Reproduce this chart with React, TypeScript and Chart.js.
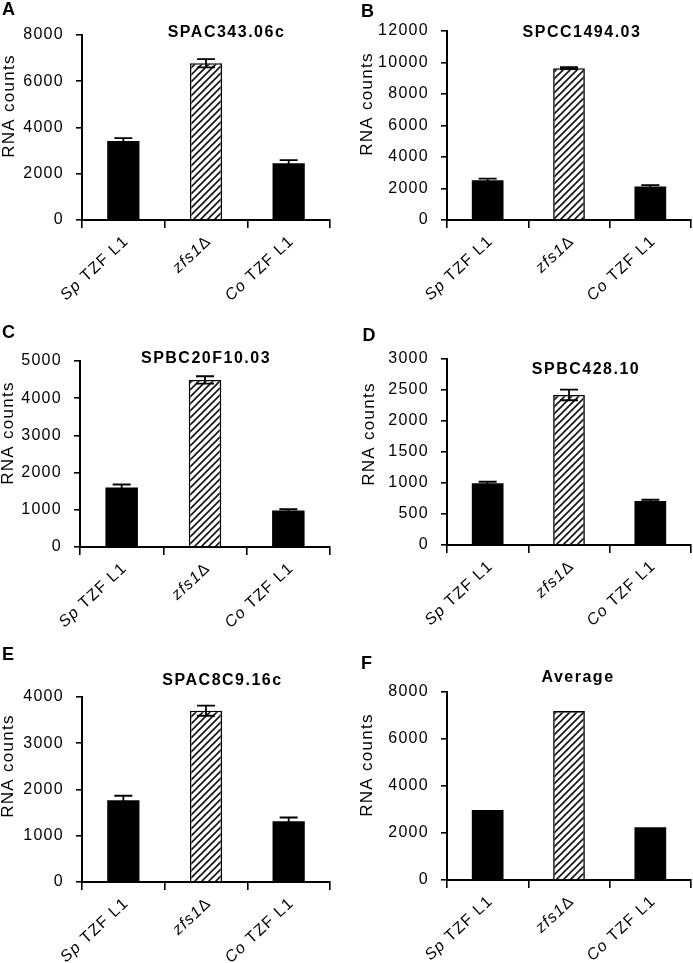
import React, { useEffect, useRef } from "react";
import { Chart, registerables } from "chart.js";

Chart.register(...registerables);

// ---------- data ----------
const categories = ["Sp TZF L1", "zfs1Δ", "Co TZF L1"];
const italicPrefixes = ["Sp", "zfs1", "Co"];
const panelLetters = ["A", "B", "C", "D", "E", "F"];
const panelTitles = ["SPAC343.06c", "SPCC1494.03", "SPBC20F10.03", "SPBC428.10", "SPAC8C9.16c", "Average"];
const yAxisTitle = "RNA counts";

const valuesA = [3420, 6780, 2450];
const errorsA = [120, 180, 140];
const valuesB = [2520, 9640, 2120];
const errorsB = [110, 60, 100];
const valuesC = [1600, 4490, 980];
const errorsC = [80, 100, 35];
const valuesD = [995, 2420, 710];
const errorsD = [25, 85, 20];
const valuesE = [1770, 3705, 1315];
const errorsE = [95, 110, 80];
const valuesF = [2980, 7190, 2240];
const errorsF: number[] = [];

const yMaxes = [8000, 12000, 5000, 3000, 4000, 8000];
const ySteps = [2000, 2000, 1000, 500, 1000, 2000];

const allValues = [valuesA, valuesB, valuesC, valuesD, valuesE, valuesF];
const allErrors = [errorsA, errorsB, errorsC, errorsD, errorsE, errorsF];

// ---------- layout (positions / sizes only) ----------
const LAYOUT = [
  { x: 0, y: 0, w: 346, h: 321, area: [82, 35, 330, 220], title: [226.5, 36.7], letter: [2, 15], ytitle: [9, 106] },
  { x: 346, y: 0, w: 347, h: 321, area: [101, 31, 345, 220], title: [236, 36.7], letter: [15, 16.7], ytitle: [21.5, 104] },
  { x: 0, y: 321, w: 346, h: 321, area: [80, 40, 330, 226], title: [206, 41.7], letter: [2, 16.7], ytitle: [8.5, 112] },
  { x: 346, y: 321, w: 347, h: 321, area: [101, 38, 345, 224], title: [240, 52.7], letter: [16.5, 20], ytitle: [23, 113] },
  { x: 0, y: 642, w: 346, h: 321, area: [82, 55, 330, 240], title: [222.5, 43.3], letter: [2, 18], ytitle: [8.5, 124] },
  { x: 346, y: 642, w: 347, h: 321, area: [101, 50, 345, 238], title: [232, 39.7], letter: [15, 26.7], ytitle: [21.5, 123] },
];

const FONT = '"Liberation Sans", Arial, sans-serif';

function makeHatch(ctx: CanvasRenderingContext2D) {
  const s = 7;
  const c = document.createElement("canvas");
  c.width = s;
  c.height = s;
  const g = c.getContext("2d")!;
  g.fillStyle = "#fff";
  g.fillRect(0, 0, s, s);
  g.strokeStyle = "#111";
  g.lineWidth = 1.6;
  g.beginPath();
  g.moveTo(-1, s + 1);
  g.lineTo(s + 1, -1);
  g.moveTo(-1, 1);
  g.lineTo(1, -1);
  g.moveTo(s - 1, s + 1);
  g.lineTo(s + 1, s - 1);
  g.stroke();
  return ctx.createPattern(c, "repeat");
}

function Panel({ idx }: { idx: number }) {
  const ref = useRef<HTMLCanvasElement | null>(null);
  const L = LAYOUT[idx];

  useEffect(() => {
    const canvas = ref.current!;
    const ctx0 = canvas.getContext("2d")!;
    const hatch = makeHatch(ctx0);
    const vals = allValues[idx];
    const errs = allErrors[idx];
    const [aL, aT, aR, aB] = L.area;

    const panelPlugin = {
      id: "panelText" + idx,
      beforeDraw(chart: any) {
        chart.ctx.letterSpacing = "1.3px";
      },
      afterDatasetsDraw(chart: any) {
        const ctx = chart.ctx;
        const meta = chart.getDatasetMeta(0);
        const ys = chart.scales.y;
        ctx.save();
        ctx.strokeStyle = "#000";
        ctx.lineWidth = 1.8;
        errs.forEach((e: number, i: number) => {
          const el = meta.data[i];
          const v = vals[i];
          const yTop = ys.getPixelForValue(v + e);
          const yBot = ys.getPixelForValue(v - e);
          const x = el.x;
          ctx.beginPath();
          ctx.moveTo(x, yTop);
          ctx.lineTo(x, yBot);
          ctx.moveTo(x - 9, yTop);
          ctx.lineTo(x + 9, yTop);
          ctx.moveTo(x - 9, yBot);
          ctx.lineTo(x + 9, yBot);
          ctx.stroke();
        });
        ctx.restore();
      },
      afterDraw(chart: any) {
        const ctx = chart.ctx;
        const area = chart.chartArea;
        const xs = chart.scales.x;
        ctx.save();
        ctx.fillStyle = "#000";

        // x labels (rotated, partially italic)
        categories.forEach((label, i) => {
          const it = italicPrefixes[i];
          const rest = label.slice(it.length);
          const px = xs.getPixelForValue(i);
          ctx.save();
          ctx.letterSpacing = "1.2px";
          ctx.translate(px + 3, area.bottom + 19);
          ctx.rotate(-Math.PI / 4.2);
          ctx.textBaseline = "middle";
          ctx.textAlign = "left";
          ctx.font = `italic 16px ${FONT}`;
          const w1 = ctx.measureText(it).width;
          ctx.font = `16px ${FONT}`;
          const w2 = ctx.measureText(rest).width;
          const x0 = -(w1 + w2);
          ctx.font = `italic 16px ${FONT}`;
          ctx.fillText(it, x0, 0);
          ctx.font = `16px ${FONT}`;
          ctx.fillText(rest, x0 + w1, 0);
          ctx.restore();
        });

        // y axis title
        ctx.save();
        ctx.letterSpacing = "1.3px";
        ctx.translate(L.ytitle[0], L.ytitle[1]);
        ctx.rotate(-Math.PI / 2);
        ctx.font = `17px ${FONT}`;
        ctx.textAlign = "center";
        ctx.textBaseline = "middle";
        ctx.fillText(yAxisTitle, 0, 0);
        ctx.restore();

        // title
        ctx.save();
        ctx.letterSpacing = "1.5px";
        ctx.font = `bold 16px ${FONT}`;
        ctx.textAlign = "center";
        ctx.textBaseline = "alphabetic";
        ctx.fillText(panelTitles[idx], L.title[0], L.title[1]);
        ctx.restore();

        // panel letter
        ctx.save();
        ctx.letterSpacing = "0px";
        ctx.font = `bold 18px ${FONT}`;
        ctx.textAlign = "left";
        ctx.textBaseline = "alphabetic";
        ctx.fillText(panelLetters[idx], L.letter[0], L.letter[1]);
        ctx.restore();

        ctx.restore();
      },
    };

    const chart = new Chart(canvas, {
      type: "bar",
      data: {
        labels: categories,
        datasets: [
          {
            data: vals,
            backgroundColor: ["#000", hatch, "#000"] as any,
            borderColor: "#000",
            borderWidth: [0, 1.6, 0],
            barPercentage: 0.39,
            categoryPercentage: 1,
          },
        ],
      },
      options: {
        responsive: false,
        animation: false,
        devicePixelRatio: 1,
        layout: { padding: { left: 0, top: aT, right: L.w - aR, bottom: 0 } },
        plugins: { legend: { display: false }, tooltip: { enabled: false }, title: { display: false } },
        scales: {
          x: {
            offset: true,
            grid: { drawOnChartArea: false, drawTicks: true, tickLength: 8, color: "#000", lineWidth: 1.6, offset: true },
            border: { display: true, color: "#000", width: 2 },
            ticks: { display: false },
            afterFit: (s: any) => {
              s.height = L.h - aB;
            },
          },
          y: {
            min: 0,
            max: yMaxes[idx],
            ticks: {
              stepSize: ySteps[idx],
              color: "#000",
              padding: 12,
              font: { family: FONT, size: 16 },
              callback: (v: any) => String(v),
            },
            grid: { drawOnChartArea: false, drawTicks: true, tickLength: 6, color: "#000", lineWidth: 1.6 },
            border: { display: true, color: "#000", width: 2 },
            afterFit: (s: any) => {
              s.width = aL;
            },
          },
        },
      } as any,
      plugins: [panelPlugin as any],
    });
    return () => chart.destroy();
  }, [idx]);

  return (
    <canvas
      ref={ref}
      width={L.w}
      height={L.h}
      style={{ position: "absolute", left: L.x, top: L.y, width: L.w, height: L.h }}
    />
  );
}

export default function App() {
  return (
    <div style={{ position: "absolute", left: 0, top: 0, width: 693, height: 963, background: "#fff" }}>
      {LAYOUT.map((_, i) => (
        <Panel key={i} idx={i} />
      ))}
    </div>
  );
}
